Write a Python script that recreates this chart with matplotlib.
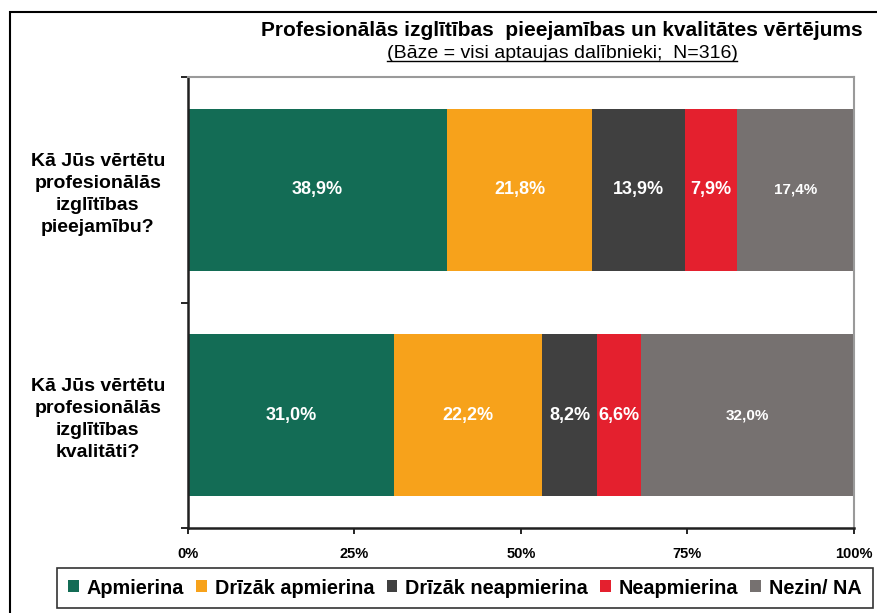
import matplotlib
matplotlib.use("Agg")
from matplotlib import pyplot as plt
from matplotlib.patches import Patch, Rectangle
from matplotlib.lines import Line2D

plt.rcParams['font.family'] = ['Liberation Sans', 'DejaVu Sans']

# survey answers, percent of respondents
questions = ["Kā Jūs vērtētu\nprofesionālās\nizglītības\npieejamību?",
             "Kā Jūs vērtētu\nprofesionālās\nizglītības\nkvalitāti?"]
answers = ["Apmierina", "Drīzāk apmierina", "Drīzāk neapmierina", "Neapmierina", "Nezin/ NA"]
apmierina = [38.9, 31.0]
drizak_apm = [21.8, 22.2]
drizak_neapm = [13.9, 8.2]
neapmierina = [7.9, 6.6]
nezin = [17.4, 32.0]
colors = ["#136C55", "#F7A21B", "#404040", "#E4202E", "#767170"]
x_ticks = [0, 25, 50, 75, 100]
x_ticklabels = ["0%", "25%", "50%", "75%", "100%"]

series = [apmierina, drizak_apm, drizak_neapm, neapmierina, nezin]

fig = plt.figure(figsize=(8.78, 6.13), dpi=100)
ax = fig.add_axes([188/878, 1 - 528/613, (854 - 188)/878, (528 - 77)/613])

# outer frame of the whole chart
fig.patches.append(Rectangle((10/878, -0.1), 1.2, 1.1 - 12/613, transform=fig.transFigure,
                             fill=False, edgecolor="black", lw=1.5, zorder=0))

ypos = list(range(len(questions)))
left = [0.0] * len(questions)
for i, (vals, col) in enumerate(zip(series, colors)):
    ax.barh(ypos, vals, left=left, height=0.72, color=col, edgecolor="none", zorder=2)
    for y, v, l in zip(ypos, vals, left):
        size = 11 if i == 4 else 13
        ax.text(l + v / 2, y, f"{v:.1f}%".replace(".", ","), color="white",
                ha="center", va="center", fontsize=size, fontweight="bold", zorder=3)
    left = [l + v for l, v in zip(left, vals)]

ax.set_xlim(0, 100)
ax.set_ylim(len(questions) - 0.5, -0.5)

ax.set_xticks(x_ticks)
ax.set_xticklabels(x_ticklabels, fontsize=10.5, fontweight="bold")
ax.tick_params(axis="x", direction="out", length=4, width=1.2, pad=10)

ax.set_yticks(ypos)
ax.set_yticklabels(questions, fontsize=14, fontweight="bold", ha="center",
                   multialignment="center", linespacing=1.38)
ax.tick_params(axis="y", which="major", length=0, pad=65)
ax.set_yticks([-0.5, 0.5, 1.5], minor=True)
ax.tick_params(axis="y", which="minor", direction="out", length=5, width=1.2)

for side in ["left", "bottom"]:
    ax.spines[side].set_color("#202020")
    ax.spines[side].set_linewidth(1.8)
for side in ["top", "right"]:
    ax.spines[side].set_color("#9A9A9A")
    ax.spines[side].set_linewidth(1.5)

title_x = 562 / 878
fig.text(title_x, 1 - 31/613, "Profesionālās izglītības  pieejamības un kvalitātes vērtējums",
         ha="center", va="center", fontsize=15, fontweight="bold")
sub = fig.text(title_x, 1 - 54/613, "(Bāze = visi aptaujas dalībnieki;  N=316)",
               ha="center", va="center", fontsize=14)

# underline under the subtitle
fig.canvas.draw()
bb = sub.get_window_extent().transformed(fig.transFigure.inverted())
fig.add_artist(Line2D([bb.x0, bb.x1], [bb.y0 + 0.002, bb.y0 + 0.002],
                      transform=fig.transFigure, color="black", lw=1))

handles = [Patch(facecolor=c, edgecolor="none") for c in colors]
leg = fig.legend(handles, answers, loc="center", ncol=5,
                 bbox_to_anchor=(465/878, 1 - 588/613),
                 prop={"size": 14.3, "weight": "bold"},
                 handlelength=0.55, handleheight=0.55, handletextpad=0.4,
                 columnspacing=0.6, borderpad=0.55,
                 frameon=True, fancybox=False, edgecolor="black")
leg.get_frame().set_linewidth(1.2)

fig.savefig("out.png", dpi=100)
